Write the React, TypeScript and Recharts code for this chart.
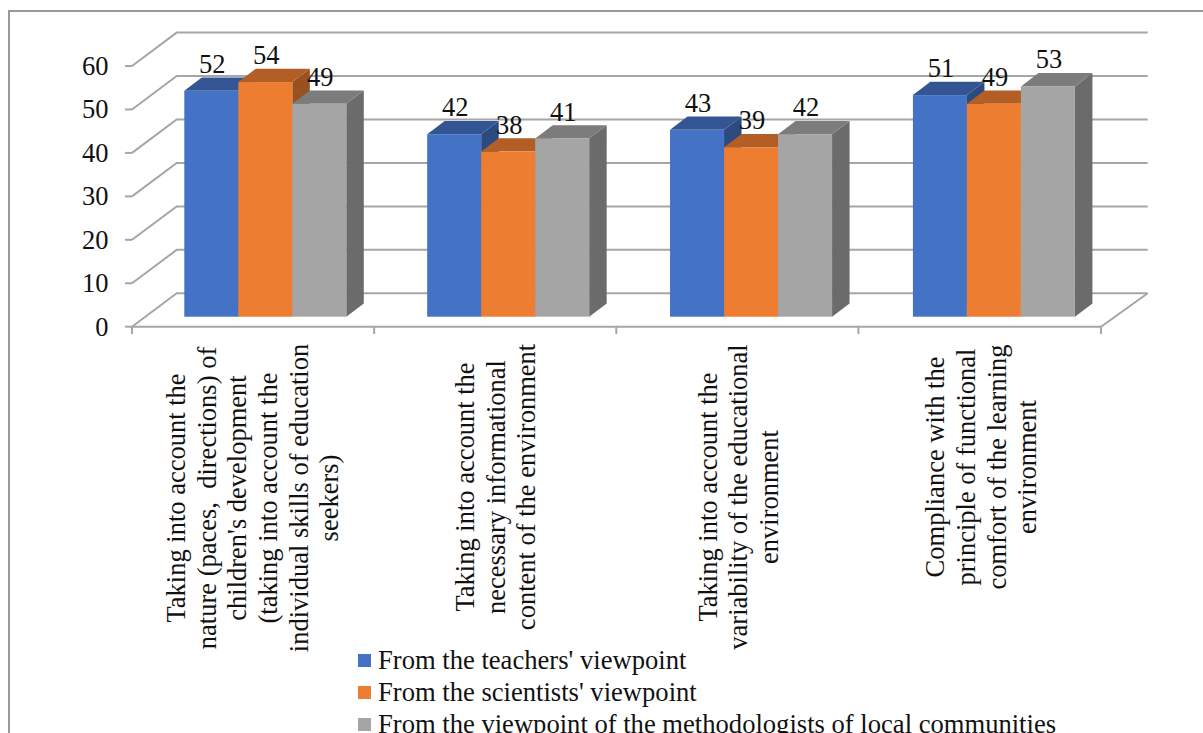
import { BarChart, Bar, XAxis, YAxis, CartesianGrid, Legend, LabelList } from "recharts";

const categories = [
  "Taking into account the\nnature (paces,  directions) of\nchildren's development\n(taking into account the\nindividual skills of education\nseekers)",
  "Taking into account the\nnecessary informational\ncontent of the environment",
  "Taking into account the\nvariability of the educational\nenvironment",
  "Compliance with the\nprinciple of functional\ncomfort of the learning\nenvironment",
];
const teachers = [52, 42, 43, 51];
const scientists = [54, 38, 39, 49];
const methodologists = [49, 41, 42, 53];
const yTicks = [0, 10, 20, 30, 40, 50, 60];

const data = categories.map((name, i) => ({
  name,
  teachers: teachers[i],
  scientists: scientists[i],
  methodologists: methodologists[i],
}));

const FONT = "'Liberation Serif', 'Times New Roman', serif";
const TEXT_SIZE = 26.5;
const GRID = "#a6a6a6";
const DEPTH_X = 17.5;
const DEPTH_Y = 13.3;
// rotated label block centre, the longest line starts right under the axis
const LABEL_MID_Y = [498, 487, 497, 467];

function box3d(top: string, side: string) {
  return (p: any) => {
    const { x, y, width, height, fill } = p;
    const r = x + width;
    const b = y + height;
    return (
      <g>
        <polygon
          points={`${r},${y} ${r + DEPTH_X},${y - DEPTH_Y} ${r + DEPTH_X},${b - DEPTH_Y} ${r},${b}`}
          fill={side}
        />
        <polygon
          points={`${x},${y} ${x + DEPTH_X},${y - DEPTH_Y} ${r + DEPTH_X},${y - DEPTH_Y} ${r},${y}`}
          fill={top}
        />
        <rect x={x} y={y} width={width} height={height} fill={fill} />
      </g>
    );
  };
}

// one grid line = front tick + side wall diagonal + back wall line
function wallLine(p: any) {
  const y = p.y1;
  const isFloor = Math.abs(y - (p.offset.top + p.offset.height)) < 1;
  const front = y + 10;
  const back = y - 23.4;
  return (
    <g key={p.key} fill="none" stroke={GRID} strokeWidth={2}>
      <line x1={125} y1={front} x2={132} y2={front} />
      <polyline points={`132,${front} 176.7,${back} 1147.7,${back}`} />
      {isFloor && <polyline points={`132,${front} 1101,${front} 1147.7,${back}`} />}
    </g>
  );
}

function YTick({ y, payload }: any) {
  return (
    <text x={108.5} y={y + 19} textAnchor="end" fontFamily={FONT} fontSize={TEXT_SIZE} fill="#111">
      {payload.value}
    </text>
  );
}

function XTick({ x, index, payload }: any) {
  const lines: string[] = payload.value.split("\n");
  const mid = LABEL_MID_Y[index];
  // the floor is a little narrower than the bar plane
  const left = x - 133.2 - index * 0.75;
  return (
    <g>
      <line x1={left} y1={326.7} x2={left} y2={334} stroke={GRID} strokeWidth={2} />
      {index === categories.length - 1 && (
        <line x1={1101} y1={326.7} x2={1101} y2={334} stroke={GRID} strokeWidth={2} />
      )}
      {lines.map((line, i) => {
        const bx = x - 3.5 + (i - (lines.length - 1) / 2) * 30.6;
        return (
          <text
            key={i}
            transform={`translate(${bx},${mid}) rotate(-90)`}
            textAnchor="middle"
            fontFamily={FONT}
            fontSize={TEXT_SIZE}
            fill="#111"
            style={{ whiteSpace: "pre" }}
          >
            {line}
          </text>
        );
      })}
    </g>
  );
}

function BarValue({ x, y, width, value }: any) {
  return (
    <text x={x + width / 2 + 1} y={y - 18} textAnchor="middle" fontFamily={FONT} fontSize={TEXT_SIZE} fill="#111">
      {value}
    </text>
  );
}

function LegendBox({ payload }: any) {
  return (
    <div style={{ fontFamily: FONT, fontSize: 26.6, color: "#111" }}>
      {payload.map((item: any) => (
        <div key={item.value} style={{ height: 32, lineHeight: "32px", whiteSpace: "nowrap", display: "flex", alignItems: "center" }}>
          <span style={{ width: 13, height: 13, background: item.color, marginRight: 7, display: "inline-block" }} />
          {item.value}
        </div>
      ))}
    </div>
  );
}

export default function App() {
  return (
    <div style={{ position: "absolute", left: 0, top: 0, width: 1203, height: 733, overflow: "hidden", background: "#fff" }}>
      <div
        style={{
          position: "absolute",
          left: 8,
          top: 10,
          right: 0,
          bottom: 0,
          borderTop: "2px solid #999",
          borderLeft: "2px solid #999",
        }}
      />
      <BarChart
        width={1203}
        height={733}
        data={data}
        margin={{ top: 56, left: 142.8, right: 87.7, bottom: 406.3 }}
        barCategoryGap={40.5}
        barGap={0}
      >
        <CartesianGrid horizontal={wallLine} vertical={false} />
        <XAxis dataKey="name" height={10} interval={0} axisLine={false} tickLine={false} tick={XTick} />
        <YAxis width={1} domain={[0, 60]} ticks={yTicks} axisLine={false} tickLine={false} tick={YTick} />
        <Legend
          layout="horizontal"
          align="center"
          verticalAlign="middle"
          itemSorter={null}
          content={LegendBox}
          wrapperStyle={{ left: 358, top: 644, bottom: "auto", width: 780 }}
        />
        <Bar dataKey="teachers" name="From the teachers' viewpoint" fill="#4472C4" isAnimationActive={false} shape={box3d("#335593", "#2C4A80")}>
          <LabelList dataKey="teachers" content={BarValue} />
        </Bar>
        <Bar dataKey="scientists" name="From the scientists' viewpoint" fill="#ED7D31" isAnimationActive={false} shape={box3d("#B25E25", "#9A5120")}>
          <LabelList dataKey="scientists" content={BarValue} />
        </Bar>
        <Bar dataKey="methodologists" name="From the viewpoint of the methodologists of local communities" fill="#A5A5A5" isAnimationActive={false} shape={box3d("#7C7C7C", "#6B6B6B")}>
          <LabelList dataKey="methodologists" content={BarValue} />
        </Bar>
      </BarChart>
    </div>
  );
}
